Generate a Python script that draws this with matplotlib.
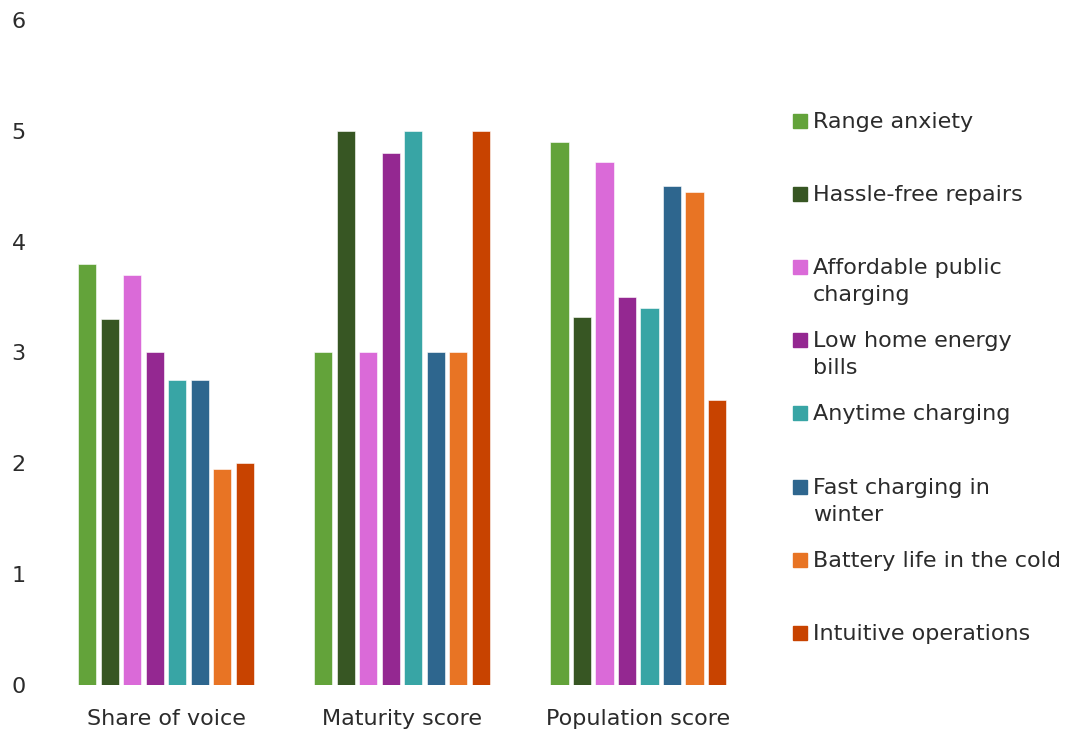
import numpy as np
import matplotlib.pyplot as plt
from matplotlib.patches import Rectangle

plt.rcParams['font.family'] = ['DejaVu Sans']

categories = ['Share of voice', 'Maturity score', 'Population score']
series_names = ['Range anxiety', 'Hassle-free repairs', 'Affordable public\ncharging',
                'Low home energy\nbills', 'Anytime charging', 'Fast charging in\nwinter',
                'Battery life in the cold', 'Intuitive operations']
range_anxiety = [3.8, 3.0, 4.9]
hassle_free = [3.3, 5.0, 3.32]
affordable_public = [3.7, 3.0, 4.72]
low_home_energy = [3.0, 4.8, 3.5]
anytime_charging = [2.75, 5.0, 3.4]
fast_charging = [2.75, 3.0, 4.5]
battery_life = [1.95, 3.0, 4.45]
intuitive_ops = [2.0, 5.0, 2.57]
colors = ['#63a33a', '#375623', '#da6ad8', '#942891', '#38a5a5', '#2e668e', '#e87424', '#c84300']

series = [range_anxiety, hassle_free, affordable_public, low_home_energy,
          anytime_charging, fast_charging, battery_life, intuitive_ops]

txt = '#2b2b2b'
fig = plt.figure(figsize=(10.78, 7.31), dpi=100)
ax = fig.add_axes([0.0445, 0.063, 0.657, 0.9096])

x = np.arange(len(categories))
step = 0.0953
width = 0.077
for i, vals in enumerate(series):
    off = (i - 3.5) * step
    ax.bar(x + off, vals, width, color=colors[i], edgecolor='white', linewidth=0.4)

ax.set_xlim(-0.5, 2.5)
ax.set_ylim(0, 6)
ax.set_yticks(range(7))
ax.set_xticks(x)
ax.set_xticklabels(categories)
for s in ax.spines.values():
    s.set_visible(False)
ax.tick_params(axis='both', length=0, labelsize=16, colors=txt)
ax.tick_params(axis='y', pad=16)
ax.tick_params(axis='x', pad=17)

# legend drawn by hand so the swatch sits on the first line
for i, name in enumerate(series_names):
    yc = 1 - (121 + 73.1 * i) / 731
    fig.add_artist(Rectangle((793 / 1078, yc - 7 / 731), 14 / 1078, 14 / 731,
                             transform=fig.transFigure, color=colors[i]))
    fig.text(813 / 1078, yc + 9 / 731, name, fontsize=16, color=txt,
             va='top', ha='left', linespacing=1.45)

plt.savefig('out.png', dpi=100)
